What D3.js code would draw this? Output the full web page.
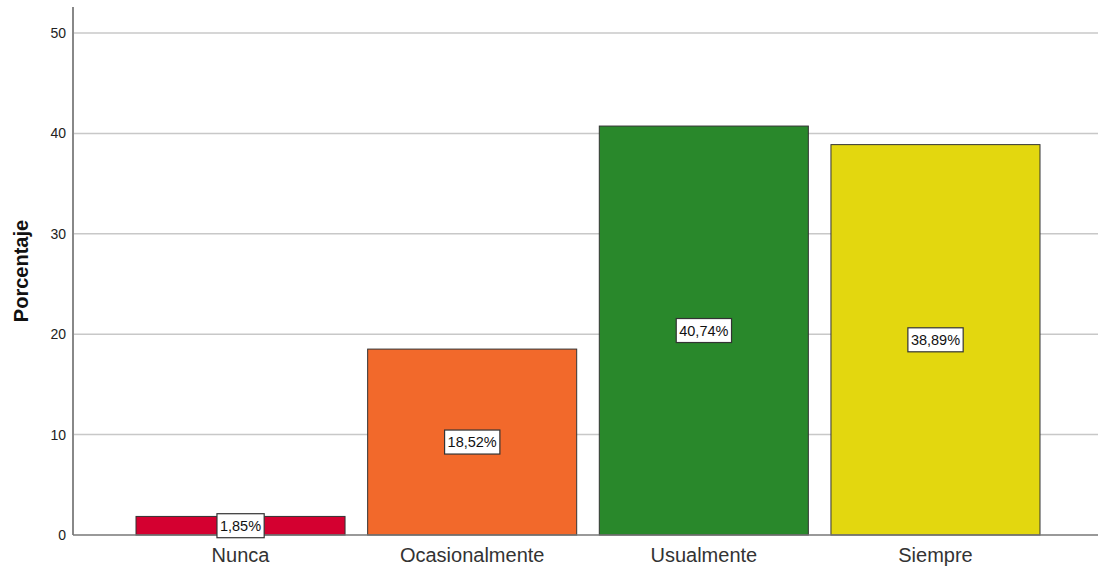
<!DOCTYPE html>
<html>
<head>
<meta charset="utf-8">
<script src="https://cdn.jsdelivr.net/npm/d3@7"></script>
<style>
  html, body { margin: 0; padding: 0; background: #fff; }
  svg { display: block; font-family: "Liberation Sans", Arial, sans-serif; }
</style>
</head>
<body>
<svg id="chart" width="1100" height="572"></svg>
<script>
// Frequency categories and their percentages
const categories = ["Nunca", "Ocasionalmente", "Usualmente", "Siempre"];
const percentages = [1.85, 18.52, 40.74, 38.89];
const valueLabels = ["1,85%", "18,52%", "40,74%", "38,89%"];
const barColors = ["#d40030", "#f2692b", "#29882b", "#e3d70f"];
const yTicks = [0, 10, 20, 30, 40, 50];
const yTitle = "Porcentaje";

const svg = d3.select("#chart");
const plot = { left: 73, right: 1098, top: 7, bottom: 535 };

const y = d3.scaleLinear().domain([0, 52.6]).range([plot.bottom, plot.top]);
const x = d3.scaleBand()
  .domain(categories)
  .range([124.7, 1051.3])
  .paddingInner(0.0976)
  .paddingOuter(0.0488);

// horizontal gridlines
svg.append("g")
  .selectAll("line")
  .data(yTicks.filter(d => d > 0))
  .join("line")
  .attr("x1", plot.left).attr("x2", plot.right)
  .attr("y1", d => y(d)).attr("y2", d => y(d))
  .attr("stroke", "#c8c8c8").attr("stroke-width", 1.5);

// y axis
const yAxis = svg.append("g")
  .attr("transform", `translate(${plot.left},0)`)
  .call(d3.axisLeft(y).tickValues(yTicks).tickSize(0).tickPadding(7));
yAxis.select(".domain").remove();
yAxis.selectAll("text")
  .attr("font-size", 14).attr("fill", "#222")
  .attr("font-family", "'Liberation Sans', Arial, sans-serif");

svg.append("line")
  .attr("x1", plot.left).attr("x2", plot.left)
  .attr("y1", plot.top).attr("y2", plot.bottom)
  .attr("stroke", "#888").attr("stroke-width", 2);

// bars
svg.append("g")
  .selectAll("rect")
  .data(categories)
  .join("rect")
  .attr("x", d => x(d))
  .attr("width", x.bandwidth())
  .attr("y", (d, i) => y(percentages[i]))
  .attr("height", (d, i) => y(0) - y(percentages[i]))
  .attr("fill", (d, i) => barColors[i])
  .attr("stroke", "#333")
  .attr("stroke-width", 1);

// baseline
svg.append("line")
  .attr("x1", plot.left).attr("x2", plot.right)
  .attr("y1", plot.bottom).attr("y2", plot.bottom)
  .attr("stroke", "#777").attr("stroke-width", 1.5);

// x axis labels
const xAxis = svg.append("g")
  .attr("transform", `translate(0,${plot.bottom})`)
  .call(d3.axisBottom(x).tickSize(0).tickPadding(13));
xAxis.select(".domain").remove();
xAxis.selectAll("text")
  .attr("font-size", 20).attr("fill", "#333")
  .attr("font-family", "'Liberation Sans', Arial, sans-serif");

// value labels in boxes at the middle of each bar
const lab = svg.append("g")
  .selectAll("g")
  .data(categories)
  .join("g")
  .attr("transform", (d, i) =>
    `translate(${x(d) + x.bandwidth() / 2},${y(percentages[i] / 2)})`);

lab.append("text")
  .attr("text-anchor", "middle")
  .attr("dominant-baseline", "central")
  .attr("font-size", 14.5)
  .attr("fill", "#111")
  .text((d, i) => valueLabels[i]);

lab.each(function () {
  const g = d3.select(this);
  const bb = g.select("text").node().getBBox();
  g.insert("rect", "text")
    .attr("x", bb.x - 3).attr("y", -12)
    .attr("width", bb.width + 6).attr("height", 24)
    .attr("fill", "#fff").attr("stroke", "#333").attr("stroke-width", 1.2);
});

// y axis title
svg.append("text")
  .attr("transform", `translate(28,${(plot.top + plot.bottom) / 2}) rotate(-90)`)
  .attr("text-anchor", "middle")
  .attr("font-size", 20)
  .attr("font-weight", "bold")
  .attr("fill", "#111")
  .text(yTitle);
</script>
</body>
</html>
